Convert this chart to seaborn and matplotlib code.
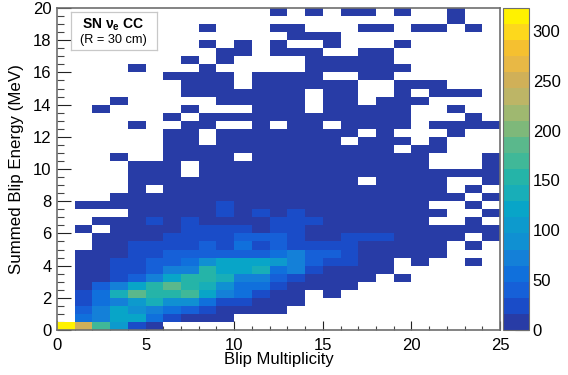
import numpy as np
import matplotlib
matplotlib.use("Agg")
import matplotlib.pyplot as plt
from matplotlib.colors import ListedColormap
import seaborn as sns

sns.set_theme(style="white")
plt.rcParams['font.family'] = ['Liberation Sans', 'DejaVu Sans']
plt.rcParams['mathtext.fontset'] = 'custom'
plt.rcParams['mathtext.rm'] = 'Liberation Sans:bold'
plt.rcParams['mathtext.it'] = 'Liberation Sans:bold'
plt.rcParams['mathtext.bf'] = 'Liberation Sans:bold'

x_ticks = [0, 5, 10, 15, 20, 25]
y_ticks = [0, 2, 4, 6, 8, 10, 12, 14, 16, 18, 20]
z_ticks = [0, 50, 100, 150, 200, 250, 300]
z_max = 323
x_label = "Blip Multiplicity"
y_label = "Summed Blip Energy (MeV)"
title_1 = r"SN $\mathrm{\nu_{e}}$ CC"
title_2 = "(R = 30 cm)"

band_colors = ["#283ca6", "#1a4cc8", "#1660d8", "#1070dc", "#1480d8",
               "#1090d2", "#0d9acd", "#08a5c8", "#18aeb8", "#25b4a8",
               "#40b898", "#5ab88c", "#7eb87a", "#9fb870", "#bdb566",
               "#d0b058", "#e8b845", "#f5c030", "#fdd81c", "#fff200"]

# counts per multiplicity bin (0-25), one list per energy bin, 20 MeV at the top
e_195 = [0,0,0,0,0,0,0,0,0,0,0,0,1,0,1,0,1,1,0,1,0,0,1,0,0]
e_190 = [0,0,0,0,0,0,0,0,0,0,0,0,0,0,0,0,0,0,0,0,0,0,1,0,0]
e_185 = [0,0,0,0,0,0,0,0,1,0,0,0,1,1,0,0,0,1,1,0,1,1,0,1,0]
e_180 = [0,0,0,0,0,0,0,0,0,0,0,0,0,1,1,1,0,0,0,0,0,0,0,0,0]
e_175 = [0,0,0,0,0,0,0,0,1,0,1,0,1,0,0,1,0,0,0,1,0,0,0,0,0]
e_170 = [0,0,0,0,0,0,0,0,0,1,1,0,1,1,1,0,0,1,1,0,0,0,0,0,0]
e_165 = [0,0,0,0,0,0,0,1,0,1,0,0,0,0,1,1,1,1,1,0,0,0,0,0,0]
e_160 = [0,0,0,0,1,0,0,0,1,0,0,0,0,0,1,1,1,1,1,1,0,0,0,0,0]
e_155 = [0,0,0,0,0,0,1,1,1,1,0,1,1,1,1,0,0,1,1,0,0,0,0,0,0]
e_150 = [0,0,0,0,0,0,0,1,1,1,0,1,1,1,1,1,1,0,0,1,1,1,0,0,0]
e_145 = [0,0,0,0,0,0,0,1,1,1,1,1,1,1,0,1,1,0,0,1,0,1,1,1,0]
e_140 = [0,0,0,1,0,0,0,0,0,1,1,1,1,1,0,1,1,0,1,1,1,0,0,0,0]
e_135 = [0,0,1,0,0,0,0,1,0,0,0,1,1,1,0,1,1,1,1,1,0,0,1,0,0]
e_130 = [0,0,0,0,0,0,1,0,1,1,1,1,1,1,1,1,1,1,1,1,0,0,0,1,0]
e_125 = [0,0,0,0,1,0,0,1,1,0,0,1,0,1,1,0,1,1,1,1,0,1,1,1,1]
e_120 = [0,0,0,0,0,0,1,1,0,1,1,1,1,1,1,1,1,0,1,0,0,0,1,0,0]
e_115 = [0,0,0,0,0,0,1,1,0,1,1,1,1,1,1,1,0,1,1,1,0,1,0,0,0]
e_110 = [0,0,0,0,0,0,1,1,1,1,1,1,1,1,1,1,1,1,1,0,1,1,0,0,0]
e_105 = [0,0,0,1,0,0,1,1,1,1,0,1,1,1,1,1,1,1,1,1,1,0,0,0,1]
e_100 = [0,0,0,0,1,1,1,0,1,1,1,1,1,1,1,1,1,1,1,1,1,0,0,0,1]
e_095 = [0,0,0,0,2,2,2,0,2,2,2,2,2,2,2,2,2,2,2,2,2,2,2,2,2]
e_090 = [0,0,0,0,2,2,2,2,2,2,2,2,2,2,2,2,2,0,2,2,2,2,0,0,2]
e_085 = [0,0,0,0,2,0,2,2,2,2,2,2,2,2,2,2,2,2,2,2,2,2,0,2,0]
e_080 = [0,0,0,3,3,3,3,3,3,3,3,3,3,3,3,3,3,3,3,3,3,3,3,0,3]
e_075 = [0,3,3,3,3,3,3,3,3,24,3,3,3,3,3,3,3,3,3,3,3,0,0,3,0]
e_070 = [0,0,0,0,5,5,5,5,5,24,5,24,5,24,5,5,5,5,5,5,5,5,0,0,3]
e_065 = [0,0,5,5,5,24,5,24,5,5,5,5,24,24,24,5,5,5,5,5,5,0,0,3,0]
e_060 = [0,3,0,5,5,5,5,24,24,24,24,5,24,24,5,5,5,5,5,5,5,3,3,3,3]
e_055 = [0,0,5,5,5,5,24,24,24,24,40,40,40,24,5,5,24,24,24,5,5,5,3,0,3]
e_050 = [0,0,5,5,24,24,24,24,40,24,57,24,40,24,24,24,24,5,5,5,5,3,0,3,0]
e_045 = [0,5,5,5,24,24,40,40,40,40,40,40,57,73,40,40,24,5,5,5,5,3,0,0,0]
e_040 = [0,5,5,24,24,40,40,57,89,121,121,121,105,73,40,24,24,5,5,0,5,0,0,3,0]
e_035 = [0,5,5,24,24,40,73,73,153,121,121,137,57,73,24,5,5,5,5,0,0,0,0,0,0]
e_030 = [0,5,5,24,40,73,121,153,153,137,73,73,40,24,5,5,5,5,0,3,0,0,0,0,0]
e_025 = [0,5,40,73,121,153,186,153,137,89,57,57,24,5,5,5,5,0,0,0,0,0,0,0,0]
e_020 = [0,24,57,137,186,153,153,170,121,73,57,24,5,5,0,5,0,0,0,0,0,0,0,0,0]
e_015 = [0,24,57,73,105,137,89,89,57,24,24,5,5,5,0,0,0,0,0,0,0,0,0,0,0]
e_010 = [0,40,73,121,89,73,57,40,24,5,5,5,5,0,0,0,0,0,0,0,0,0,0,0,0]
e_005 = [0,57,73,121,121,57,24,5,5,5,0,0,0,0,0,0,0,0,0,0,0,0,0,0,0]
e_000 = [323,250,170,105,24,8,0,0,0,0,0,0,0,0,0,0,0,0,0,0,0,0,0,0,0]

counts = np.array([e_195, e_190, e_185, e_180, e_175, e_170, e_165, e_160,
                   e_155, e_150, e_145, e_140, e_135, e_130, e_125, e_120,
                   e_115, e_110, e_105, e_100, e_095, e_090, e_085, e_080,
                   e_075, e_070, e_065, e_060, e_055, e_050, e_045, e_040,
                   e_035, e_030, e_025, e_020, e_015, e_010, e_005, e_000],
                  dtype=float)

W, H = 568, 375
fig = plt.figure(figsize=(W / 100, H / 100), dpi=100)
ax = fig.add_axes([57 / W, 1 - 330 / H, 443 / W, 322 / H])
cax = fig.add_axes([503 / W, 1 - 330 / H, 25.5 / W, 322 / H])

sns.heatmap(counts, mask=counts == 0, cmap=ListedColormap(band_colors),
            vmin=0, vmax=z_max, ax=ax, cbar_ax=cax,
            xticklabels=False, yticklabels=False,
            cbar_kws={"ticks": z_ticks})

frame = "#6e6e6e"
for s in ax.spines.values():
    s.set_visible(True)
    s.set_color(frame)
    s.set_linewidth(1.2)
    s.set_zorder(6)

n_rows = counts.shape[0]
ax.set_xticks(x_ticks)
ax.set_xticklabels([str(v) for v in x_ticks], fontsize=12)
ax.set_yticks([n_rows - 2 * v for v in y_ticks])
ax.set_yticklabels([str(v) for v in y_ticks], fontsize=12, rotation=0)
ax.set_xticks(np.arange(0, 26), minor=True)
ax.set_yticks(np.arange(0, 41, 1), minor=True)
ax.tick_params(axis="x", which="major", direction="in", length=6.5, width=0.8,
               color="#222222", bottom=True, pad=6, labelcolor="black", zorder=7)
ax.tick_params(axis="x", which="minor", direction="in", length=3.2, width=0.8,
               color="#444444", bottom=True)
ax.tick_params(axis="y", which="major", direction="in", length=10, width=0.8,
               color="#222222", left=True, pad=4, labelcolor="black")
ax.tick_params(axis="y", which="minor", direction="in", length=5, width=0.8,
               color="#444444", left=True)
for t in ax.xaxis.get_ticklines(minor=True) + ax.xaxis.get_ticklines() \
        + ax.yaxis.get_ticklines(minor=True) + ax.yaxis.get_ticklines():
    t.set_zorder(7)

ax.set_xlabel(x_label, fontsize=12, color="black", labelpad=-1)
ax.set_ylabel(y_label, fontsize=12.2, color="black", labelpad=6.5)

cb = ax.collections[0].colorbar
cb.outline.set_edgecolor(frame)
cb.outline.set_linewidth(0.8)
cax.yaxis.set_ticks_position("right")
cax.tick_params(axis="y", which="major", direction="in", length=10, width=0.8,
                color="#444444", right=True, left=False, pad=3,
                labelsize=12, labelcolor="black")
cax.minorticks_off()

box = fig.add_axes([70.5 / W, 1 - 49.5 / H, 86 / W, 38 / H], zorder=8)
box.set_xticks([])
box.set_yticks([])
box.set_facecolor("white")
for s in box.spines.values():
    s.set_visible(True)
    s.set_color("#c8c8c8")
    s.set_linewidth(0.9)
box.text(0.5, 0.66, title_1, ha="center", va="center", fontsize=10,
         fontweight="bold", color="black", transform=box.transAxes)
box.text(0.5, 0.24, title_2, ha="center", va="center", fontsize=9.2,
         color="black", transform=box.transAxes)

fig.savefig("out.png", dpi=100)
